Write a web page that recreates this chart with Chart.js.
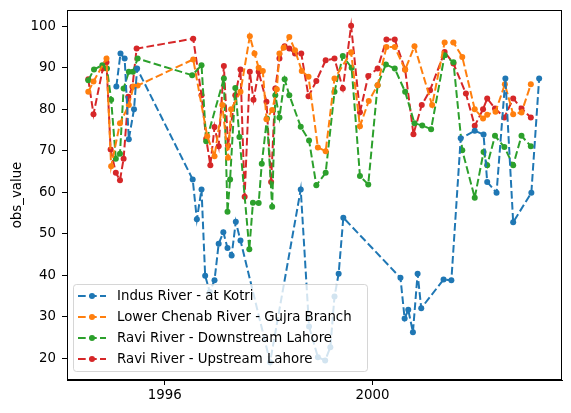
<!DOCTYPE html>
<html>
<head>
<meta charset="utf-8">
<script src="https://cdn.jsdelivr.net/npm/chart.js@4.4.1/dist/chart.umd.min.js"></script>
<style>
  html, body { margin: 0; padding: 0; background: #fff; }
  #obsChart { display: block; }
</style>
</head>
<body>
<canvas id="obsChart" width="571" height="413"></canvas>
<script>
// sample dates as decimal years
const indusX = [1995.07, 1995.15, 1995.23, 1995.31, 1995.41, 1995.47, 1996.54, 1996.62, 1996.71, 1996.78, 1996.87, 1996.96, 1997.04, 1997.13, 1997.21, 1997.29, 1997.37, 1997.46, 1998.03, 1998.62, 1998.78, 1998.95, 1999.09, 1999.19, 1999.27, 1999.35, 1999.44, 2000.54, 2000.62, 2000.69, 2000.78, 2000.87, 2000.94, 2001.37, 2001.52, 2001.70, 2001.97, 2002.14, 2002.21, 2002.39, 2002.56, 2002.71, 2003.06, 2003.21];
const indusY = [85.5, 93.4, 92.2, 72.8, 80.0, 89.8, 63.1, 53.5, 60.7, 39.9, 36.0, 38.8, 47.6, 50.4, 46.6, 44.8, 52.9, 48.4, 19.1, 60.7, 27.7, 20.3, 19.5, 22.7, 34.9, 40.4, 53.9, 39.4, 29.6, 31.7, 26.3, 40.4, 32.1, 39.0, 38.8, 73.0, 74.8, 73.9, 62.5, 59.9, 87.4, 52.8, 59.9, 87.4];

const chenabX = [1994.53, 1994.63, 1994.88, 1994.97, 1995.14, 1995.31, 1995.40, 1995.48, 1996.55, 1996.82, 1996.96, 1997.11, 1997.22, 1997.28, 1997.46, 1997.64, 1997.73, 1997.81, 1997.89, 1997.96, 1998.07, 1998.16, 1998.21, 1998.29, 1998.40, 1998.51, 1998.64, 1998.77, 1998.95, 1999.10, 1999.27, 1999.59, 1999.76, 1999.93, 2000.10, 2000.27, 2000.43, 2000.63, 2000.81, 2001.15, 2001.39, 2001.56, 2001.73, 2001.97, 2002.13, 2002.21, 2002.37, 2002.55, 2002.71, 2002.87, 2003.05];
const chenabY = [84.2, 86.7, 92.2, 66.3, 76.6, 81.0, 85.5, 85.7, 92.0, 73.5, 68.7, 81.0, 68.3, 80.0, 84.2, 97.6, 93.4, 90.0, 89.2, 77.6, 79.8, 84.8, 93.4, 94.8, 97.4, 94.2, 89.2, 87.8, 70.8, 69.9, 87.4, 93.7, 75.9, 82.0, 85.8, 95.0, 95.0, 89.5, 95.2, 81.0, 96.1, 96.1, 92.6, 80.0, 77.8, 78.7, 79.4, 86.0, 78.8, 79.2, 86.0];

const raviDownX = [1994.53, 1994.64, 1994.80, 1994.89, 1994.97, 1995.06, 1995.14, 1995.21, 1995.31, 1995.39, 1995.48, 1996.53, 1996.71, 1996.80, 1997.14, 1997.21, 1997.26, 1997.36, 1997.44, 1997.63, 1997.70, 1997.81, 1997.87, 1997.97, 1998.07, 1998.13, 1998.21, 1998.31, 1998.40, 1998.62, 1998.78, 1998.92, 1999.10, 1999.27, 1999.43, 1999.60, 1999.76, 1999.92, 2000.10, 2000.26, 2000.43, 2000.63, 2000.81, 2000.96, 2001.13, 2001.39, 2001.56, 2001.73, 2001.97, 2002.14, 2002.21, 2002.36, 2002.54, 2002.71, 2002.87, 2003.05];
const raviDownY = [87.0, 89.6, 90.6, 89.8, 82.3, 68.1, 69.3, 85.0, 89.0, 89.0, 92.2, 88.2, 90.6, 72.3, 87.4, 55.3, 63.1, 85.1, 73.3, 46.3, 57.5, 57.4, 66.9, 77.8, 56.5, 83.4, 78.0, 87.2, 83.4, 75.8, 72.5, 61.7, 64.7, 84.2, 92.8, 90.0, 63.9, 61.9, 85.8, 90.8, 89.8, 84.2, 76.6, 76.1, 75.2, 93.0, 91.3, 70.1, 58.7, 69.7, 66.5, 73.6, 70.9, 66.5, 73.6, 71.1];

const raviUpX = [1994.53, 1994.63, 1994.81, 1994.88, 1994.96, 1995.06, 1995.14, 1995.21, 1995.30, 1995.38, 1995.46, 1996.55, 1996.71, 1996.80, 1996.88, 1996.96, 1997.04, 1997.14, 1997.22, 1997.36, 1997.46, 1997.54, 1997.64, 1997.71, 1997.81, 1997.96, 1998.05, 1998.13, 1998.21, 1998.31, 1998.40, 1998.51, 1998.63, 1998.77, 1998.92, 1999.10, 1999.27, 1999.43, 1999.59, 1999.76, 1999.92, 2000.10, 2000.27, 2000.43, 2000.63, 2000.79, 2000.95, 2001.11, 2001.39, 2001.56, 2001.80, 2001.97, 2002.13, 2002.21, 2002.36, 2002.54, 2002.71, 2002.87, 2003.05];
const raviUpY = [87.2, 78.8, 89.8, 91.3, 70.3, 64.7, 62.9, 68.1, 83.0, 85.4, 94.6, 97.0, 83.4, 72.9, 66.5, 75.7, 71.1, 90.4, 71.3, 83.4, 89.6, 58.9, 89.0, 82.3, 89.0, 81.8, 62.5, 85.0, 92.2, 95.2, 94.6, 93.4, 93.4, 83.1, 86.8, 91.8, 92.2, 85.0, 100.1, 79.3, 88.0, 89.8, 96.8, 96.8, 89.6, 74.0, 81.0, 84.6, 93.8, 91.0, 83.8, 76.0, 80.0, 82.6, 80.2, 78.0, 82.6, 80.2, 78.0];

const seriesNames = ['Indus River - at Kotri', 'Lower Chenab River - Gujra Branch', 'Ravi River - Downstream Lahore', 'Ravi River - Upstream Lahore'];
const seriesColors = ['#1f77b4', '#ff7f0e', '#2ca02c', '#d62728'];
const xTicks = [1996, 2000];
const yTicks = [20, 30, 40, 50, 60, 70, 80, 90, 100];

const FONT = 'DejaVu Sans';
Chart.defaults.font.family = FONT;
Chart.defaults.color = '#000';

const toPoints = (xs, ys) => xs.map((x, i) => ({ x: x, y: ys[i] }));
const allX = [indusX, chenabX, raviDownX, raviUpX];
const allY = [indusY, chenabY, raviDownY, raviUpY];

const datasets = seriesNames.map((name, i) => ({
    label: name,
    data: toPoints(allX[i], allY[i]),
    borderColor: seriesColors[i],
    backgroundColor: seriesColors[i],
    pointBackgroundColor: seriesColors[i],
    pointBorderWidth: 0,
    pointRadius: 3,
    borderWidth: 2,
    borderDash: [7.7, 3.3],
    tension: 0,
    fill: false
}));

// box round the plot + the legend in the lower left, like matplotlib
const framePlugin = {
    id: 'frame',
    afterDraw: function (chart) {
        const ctx = chart.ctx;
        const a = chart.chartArea;
        ctx.save();
        ctx.strokeStyle = '#000';
        ctx.lineWidth = 1;
        ctx.strokeRect(a.left + 0.5, a.top + 0.5, a.right - a.left - 1, a.bottom - a.top - 1);

        // legend
        const lx = 73.5, ly = 284.5, lw = 294, lh = 87;
        ctx.beginPath();
        ctx.roundRect(lx, ly, lw, lh, 3);
        ctx.fillStyle = 'rgba(255,255,255,0.8)';
        ctx.fill();
        ctx.strokeStyle = 'rgba(204,204,204,0.8)';
        ctx.stroke();

        ctx.font = '13.33px ' + FONT;
        ctx.textBaseline = 'middle';
        ctx.textAlign = 'left';
        seriesNames.forEach((name, i) => {
            const y = 296 + i * 21;
            ctx.strokeStyle = seriesColors[i];
            ctx.lineWidth = 2;
            ctx.setLineDash([7.7, 3.3]);
            ctx.beginPath();
            ctx.moveTo(78, y);
            ctx.lineTo(106, y);
            ctx.stroke();
            ctx.setLineDash([]);
            ctx.fillStyle = seriesColors[i];
            ctx.beginPath();
            ctx.arc(92, y, 3, 0, Math.PI * 2);
            ctx.fill();
            ctx.fillStyle = '#000';
            ctx.fillText(name, 117, y + 1);
        });
        ctx.restore();
    }
};

const ctx = document.getElementById('obsChart').getContext('2d');
const obsChart = new Chart(ctx, {
    type: 'line',
    data: { datasets: datasets },
    options: {
        responsive: false,
        animation: false,
        devicePixelRatio: 1,
        layout: { padding: { top: 10, right: 9, left: 0, bottom: 0 } },
        plugins: {
            legend: { display: false },
            tooltip: { enabled: false }
        },
        scales: {
            x: {
                type: 'linear',
                min: 1994.12,
                max: 2003.65,
                afterBuildTicks: function (scale) {
                    scale.ticks = xTicks.map(v => ({ value: v }));
                },
                afterFit: function (scale) {
                    scale.height = 33;
                    scale.paddingLeft = 0;
                    scale.paddingRight = 0;
                },
                ticks: {
                    font: { size: 13.33 },
                    padding: 3,
                    maxRotation: 0,
                    callback: v => String(v)
                },
                grid: { display: true, drawOnChartArea: false, tickLength: 5, color: '#000' },
                border: { display: true, color: '#000', width: 1 }
            },
            y: {
                min: 14.8,
                max: 103.9,
                afterBuildTicks: function (scale) {
                    scale.ticks = yTicks.map(v => ({ value: v }));
                },
                afterFit: function (scale) {
                    scale.width = 67;
                    scale.paddingTop = 0;
                    scale.paddingBottom = 0;
                },
                ticks: {
                    font: { size: 13.33 },
                    padding: 6,
                    callback: v => String(v)
                },
                title: {
                    display: true,
                    text: 'obs_value',
                    font: { size: 13.33 },
                    padding: { top: 10, bottom: 0 }
                },
                grid: { display: true, drawOnChartArea: false, tickLength: 5, color: '#000' },
                border: { display: true, color: '#000', width: 1 }
            }
        }
    },
    plugins: [framePlugin]
});
</script>
</body>
</html>
